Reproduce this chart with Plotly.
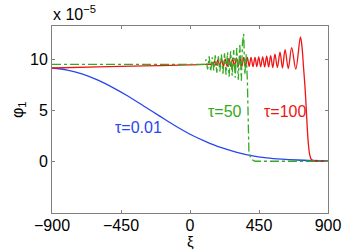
import plotly.graph_objects as go

# ---- data (phi1 in units of 1e-5) ----
xi_blue = [-900, -800, -700, -600, -500, -400, -300, -200, -100, 0, 100, 200,
           300, 400, 500, 600, 700, 800, 900]
phi_blue = [9.15, 8.95, 8.55, 7.95, 7.2, 6.35, 5.4, 4.45, 3.5, 2.65, 1.95, 1.35,
            0.9, 0.55, 0.33, 0.2, 0.12, 0.07, 0.04]

xi_green = [-900, -500, 0, 90, 95, 105, 115, 125, 135, 145, 155, 165, 175, 185,
            195, 205, 215, 225, 235, 245, 255, 265, 275, 285, 295, 305, 315,
            325, 335, 342, 350, 358, 366, 374, 380, 384, 395, 410, 425, 500, 900]
phi_green = [9.5, 9.5, 9.5, 9.5, 9.5, 10.0, 9.0, 10.3, 8.8, 10.2, 8.9, 10.4,
             8.7, 10.3, 8.8, 10.5, 8.6, 10.6, 8.5, 10.7, 8.3, 10.8, 8.4, 10.9,
             8.2, 11.1, 8.0, 11.4, 7.9, 11.6, 12.5, 8.5, 10.5, 8.0, 4.0, 1.0,
             0.35, 0.1, 0.0, 0.0, 0.0]

xi_red = [-900, -600, -300, 0, 100, 150, 160, 170, 182, 194, 206, 218, 230, 242,
          254, 266, 278, 290, 302, 314, 326, 338, 350, 362, 374, 386, 398, 411,
          424, 436, 448, 461, 474, 487, 500, 513, 526, 540, 554, 570, 587, 603,
          620, 641, 663, 690, 720, 730, 740, 750, 758, 765, 772, 780, 790, 805,
          820, 900]
phi_red = [9.15, 9.25, 9.35, 9.45, 9.5, 9.55, 9.8, 9.4, 9.95, 9.35, 10.0, 9.3,
           10.05, 9.3, 10.1, 9.3, 10.1, 9.3, 10.15, 9.3, 10.15, 9.3, 10.2, 9.3,
           10.2, 9.3, 10.2, 9.28, 10.2, 9.28, 10.25, 9.27, 10.25, 9.25, 10.3,
           9.25, 10.35, 9.2, 10.5, 9.2, 10.7, 9.15, 10.95, 9.1, 11.15, 9.05,
           12.2, 11.3, 9.3, 7.3, 5.2, 3.2, 1.7, 0.7, 0.2, 0.03, 0.0, 0.0]

x_ticks = [-900, -450, 0, 450, 900]
y_ticks = [0, 5, 10]
labels = ["τ=0.01", "τ=50", "τ=100"]
label_xi = [-337, 228, 622]
label_phi = [3.35, 4.85, 4.85]

BLUE = "#2846f0"
GREEN = "#33aa22"
RED = "#ee1515"
FONT = "Liberation Sans, Arial, sans-serif"

fig = go.Figure()
fig.add_trace(go.Scatter(x=xi_blue, y=phi_blue, mode="lines",
                         line=dict(color=BLUE, width=1.3, shape="spline")))
fig.add_trace(go.Scatter(x=xi_red, y=phi_red, mode="lines",
                         line=dict(color=RED, width=1.3, shape="spline", smoothing=1.0)))
fig.add_trace(go.Scatter(x=xi_green, y=phi_green, mode="lines",
                         line=dict(color=GREEN, width=1.3, dash="dashdot")))

for t, xv, yv, c in zip(labels, label_xi, label_phi, [BLUE, GREEN, RED]):
    fig.add_annotation(x=xv, y=yv, text=t, showarrow=False,
                       font=dict(color=c, size=16, family=FONT),
                       xanchor="center", yanchor="middle")

L, R, T, B = 52, 328, 26, 213
W, H = 354, 251
pw, ph = R - L, B - T

def px(xp):
    return (xp - L) / pw

def py(yp):
    return (B - yp) / ph

fig.add_annotation(xref="paper", yref="paper", x=px(51), y=py(25),
                   text="x 10<sup>−5</sup>", showarrow=False,
                   xanchor="left", yanchor="bottom",
                   font=dict(size=16, family=FONT, color="black"))
fig.add_annotation(xref="paper", yref="paper", x=px(190), y=py(251),
                   text="ξ", showarrow=False, xanchor="center", yanchor="bottom",
                   borderpad=0,
                   font=dict(size=15, family=FONT, color="black"))
fig.add_annotation(xref="paper", yref="paper", x=px(18), y=py(110),
                   text="φ<sub>1</sub>", showarrow=False, textangle=-90,
                   xanchor="center", yanchor="middle",
                   font=dict(size=16, family=FONT, color="black"))

axis_common = dict(showgrid=False, zeroline=False, showline=True,
                   linecolor="#808080", linewidth=1, mirror="ticks",
                   ticks="inside", ticklen=3, tickcolor="#808080",
                   automargin=False,
                   tickfont=dict(size=16, family=FONT, color="black"))
fig.update_xaxes(range=[-900, 900], tickvals=x_ticks, ticklabelstandoff=-2,
                 ticktext=[str(v).replace("-", "−") for v in x_ticks], **axis_common)
fig.update_yaxes(range=[-5.08, 13.27], tickvals=y_ticks,
                 ticktext=[str(v) for v in y_ticks], **axis_common)

fig.update_layout(width=W, height=H, showlegend=False,
                  margin=dict(l=L, r=W - R, t=T, b=H - B, pad=0),
                  paper_bgcolor="white", plot_bgcolor="white")

fig.write_html("out.html", config={"displayModeBar": False},
               post_script="document.body.style.margin='0';document.body.style.overflow='hidden';")
